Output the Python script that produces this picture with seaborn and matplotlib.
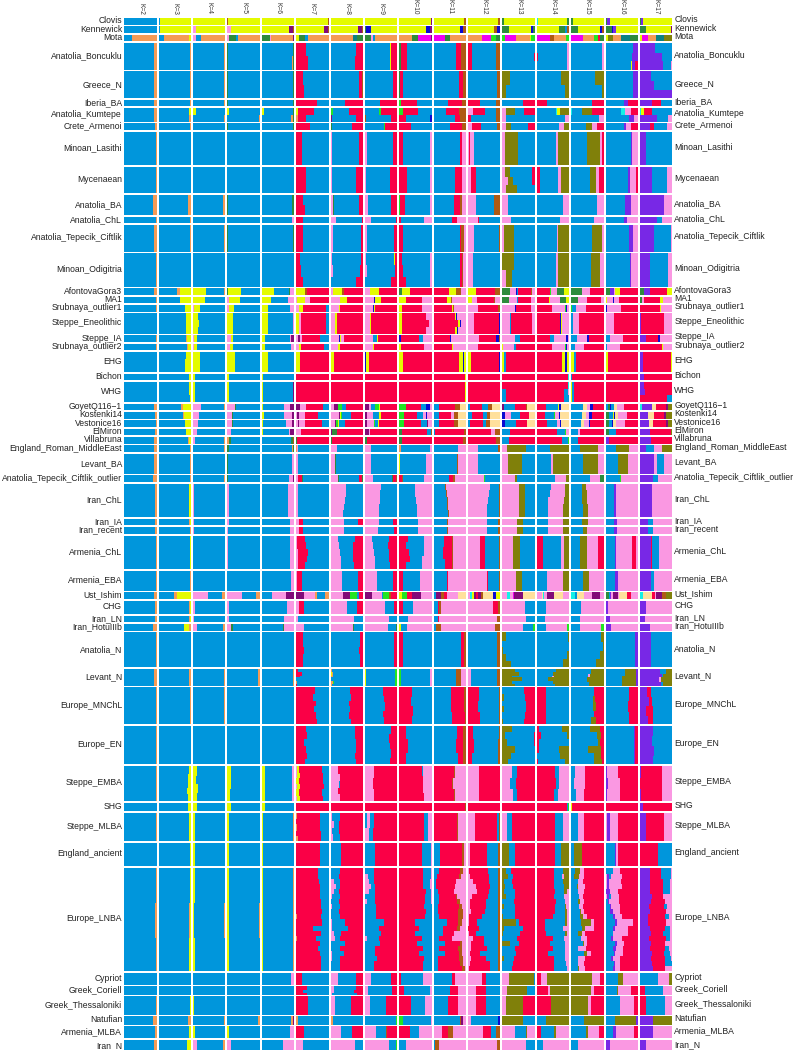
import re
import numpy as np
import matplotlib.pyplot as plt
import seaborn as sns
from matplotlib.colors import ListedColormap
from matplotlib.transforms import ScaledTranslation

# population, top to bottom
pops = ["Clovis", "Kennewick", "Mota", "Anatolia_Boncuklu", "Greece_N", "Iberia_BA", "Anatolia_Kumtepe",
        "Crete_Armenoi", "Minoan_Lasithi", "Mycenaean", "Anatolia_BA", "Anatolia_ChL", "Anatolia_Tepecik_Ciftlik",
        "Minoan_Odigitria",
        "AfontovaGora3", "MA1", "Srubnaya_outlier1", "Steppe_Eneolithic", "Steppe_IA", "Srubnaya_outlier2", "EHG",
        "Bichon", "WHG",
        "GoyetQ116\u22121", "Kostenki14", "Vestonice16", "ElMiron", "Villabruna", "England_Roman_MiddleEast",
        "Levant_BA", "Anatolia_Tepecik_Ciftlik_outlier",
        "Iran_ChL", "Iran_IA", "Iran_recent", "Armenia_ChL", "Armenia_EBA", "Ust_Ishim", "CHG", "Iran_LN",
        "Iran_HotuIIIb",
        "Anatolia_N", "Levant_N", "Europe_MNChL", "Europe_EN", "Steppe_EMBA", "SHG", "Steppe_MLBA", "England_ancient",
        "Europe_LNBA", "Cypriot", "Greek_Coriell", "Greek_Thessaloniki", "Natufian", "Armenia_MLBA", "Iran_N"]

# height of each population in heatmap rows
pop_rows = [4, 4, 4, 16, 16, 4, 8, 4, 20, 16, 12, 4, 16, 20,
            4, 4, 4, 12, 4, 4, 12, 4, 12,
            4, 4, 4, 4, 4, 4, 12, 4,
            20, 4, 4, 20, 12, 4, 8, 4, 4,
            21, 10, 22, 23, 21, 5, 17, 14, 62, 7, 5, 11, 5, 7, 8]

# one cell per population, letter + percent left to right, "/" = next slice down
k2 = """b100 b100 b24o76 b92o8 b92o8 b93o7 b93o7 b96o4 b99o1 b99o1 b90o10 b97o3 b93o7 b98o2
b92o8 b98o2 b98o2 b100 b98o2 b99o1 b100 b100 b100
b92o8 b96o4 b97o3 b95o5 b92o8 b92o8 b92o8 b90o10
b96o4 b95o5 b95o5 b98o2 b98o2 b92o8 b96o4 b95o5 b90o10
b99o1 b93o7 b99o1/b97o3/b99o1 b98o2 b99o1 b100 b97o3 b100 b98o2/b96o4/b98o2 b100 b100 b99o1 b90o10 b95o5 b92o8""".split()

k3 = """b3o2y95 b3o2y95 b17o76y7 b96o4 b96o4 b96o4 b94y6/b94o6 b98o2 b100 b99o1 b91o9 b98o2 b96o4 b99o1
b57o9y34 b66y34 b80y20 b85y15/b84y16/b83y17 b83o5y12 b86o3y11 b83y17/b82y18/b80y20 b94y6 b93y7/b92y8/b96y4
b70o6y24 b75o2y23 b80y20 b84y16 b90o5y5 b97o3 b98o2 b97o3
b95y5 b95o3y2 b96o4 b97y3 b97o3 b47o8y45 b92o4y4 b92o4y4 b79y14o7
b99o1 b94o6 b97o3 b100 b92y8/b89y11/b91y9/b88y12/b91y9 b90y10 b95y5 b97y3 b96y4/b93o4y3/b95y5 b99o1 b99o1 b97y3 b90o10 b94y6 b87y13""".split()

k4 = """y100 p8y92 p8b17o75 b96o4 b96o4 b97o3 y10b90/b96o4 b99o1 b100 b100 b92o8 b98o2 b95o5 b98o2
y40b54o6 y36b64 p4y17b79 y14b86/y19b81/y16b84 p4y8b88 p4y8b88 y20b80 y6b94 y5b95
p24b70o6 p18b82 p14b86 p12b88 p5b91o4 b96o4 b98o2 b97o3
p3b97 p3b97 p3b97 b99o1 b98o2 p45b45o10 p5b95 p3b97 p12b80o8
b100 b94o6 b97o3 b99o1 y12b88/y10b90/y14b86/y11b89 y12b88 y6b94 y5b95 y5b95/y4b92o4/y5b95 b100 b100 y2b98 b95o5 y5b95 p12b80o8""".split()

k5 = """n2y98 p12y88 p4g21b9o66 g2b98 g2b98 g2b98 y5b95/b97o3 g2b98 b100 b100 g2b98 b100 g3b97 b100
g3y40b57 p5y33b62 p6y15b79 y18b82 p10y8b82 p8y8b84 y22b78 y5b95 y4b96
p22g4b74 p15g3b82 p14g3b83 p12b88 o4g6b90 g4b96 g1b99 g3b97
p4b96 p4b96 p3b97 p2b98 b99g1 p44b44o12 p6b94 p5b95 p12g4b84
b100 b95o5 b100 b100 y10b90/y12b88/y8b92 y10b90 y6b94 y4b96 y5b95/y4b92o4/y5b95 b100 b100 b100 b95o5 y4b96 p12b88""".split()

k6 = """y98n2 y85d12n3 g25p4o68d3 b96g4/b92o5g3 b97g3 b97g3 y6b90g4/b90o6g4 b96g4 b99p1 b99p1 b92g6p2 b93p7 b96g4 b99p1
y37b47g4p12 y27b55p18 y18b68p14 y18b78p4 y9b78p4d9 y9b82p9 y20b80 y3b95n2 y3b93d4
y4b66p17d13 y6b62p25d7 y3b73p16d8 y3b80p4d13 y2b88g5n5 b93o4g3 b92p8 b85p12d3
b82p18 b87p13 b87p13 b88p12 b90p10 o2b31p42d25 b78p22 b68p32 b64g3p33
b100 b95o5 b99o1 b100 y10b82p8 y10b90 y5b91o4 y3b97 y5b92o3 b91p9 b100 b98p2 b90o6d4 b87p13 b64p36""".split()

k7 = """y98n2 y85d14n1 y8g20b8o64 r30b70/r36b64 r20b80/r25b75 r65b35 y5r50b45/o5r25b70 r42b58 r17b83/r19b81 r30b70 r22b78/r28b72 r20b80 r22b78 r12b88/r14b86/r22b78
y28n6r66 p2y24p17r57 p8y14r70b8 y8p8r76b8 p2d2p2d7p6r53b28 p8y7r70b15 y12r88 r100 r100
d12p18r54b16 p4d4p20r38b34 p5d3p20r53b19 p14r86 g2r98 o4p2b94 p5b95 p7r12g1b80
p5b95 p8r14b78 p8r12b80 p3r23b74/p4r27b69/p5r30b65/p6r26b68/p6r22b72 p4r15b81 d24p33o7b26o10 p10r14b76 p5b95 p24b76
r22b78/r21b79/r24b76/r20b80/r22b78 r6b94/r18b82/r12b88/b100/o2b98/r4b96 r58b42/r52b48/r62b38/r56b44/r60b40/r64b36 r30b70/r34b66/r24b76/r30b70/r34b66/r28b72 p4y6r70b20/p3y9r70b18/y8r74b18/p4y8r74b14/y8r72b20/p3y8r71b18 r100 o4r70b26/r72b28/o3r72b25/r76b24/o6r70b24 r72b28/r72b28/r74b26/r72b28 r68b32/r68b32/r70b30/r72b28/r75b25/r73b27/r76b24/r78b22/r80b20/o2r76b22/r80b20/r52b48/r78b22/o2r58b40/r72b28/r66b34/r74b26/r78b22/r78b22/r78b22 r18b82 r32b68/r20b80/r34b66 r38b62 o5n2b93 r25b75 p20b80""".split()

k8 = """y100 y85d12n3 o68d2t13g17 b78r22/b76r24 b88r10n2 b45r55 G8b50r42/d4b76r20 g3b62r35 p5b83r12 p6b72r22 p8g4b76r12 p17b80r3 p7b86r7 p5b88r7/p8b84r8/b80r20
p8y28n5r59 p28y22r50 p25y3r72 p14y6r80 p26N4y3p10r57 p22y6r72 p2y10r88 r100 g1r99
p10d12G13b14r51 p25d4y3G4b26r38 p13d4G7y3b18r55 d5g15r80 g5r95 p20g1b79 p15g1b84 p24g3b60r10g3
p49b51/p47b53/p44b56/p41b59/p38b62 p40b45r15 p40b60 p24b50r26/p26b44r30/p30b38r32/p32b36r32/p33b38r29 p35b50r15 p37d24G20b8r11 p50b33r17 p72b28 p70g3b27
b92r8/b90r10/b88r12/b92r8/b90r10 o4b96/y4o4b92/o8b92/b100/o8G3b89/o3b97 b60r40/b62r38/b56r44/b60r40/b58r42/b64r36 b76r24/b74r26/b80r20/b78r22/b74r26/b78r22 p24r76/p28r72/p26b4r70/p24r76/p28r72 r100 p6b22r72/p10b16r74/p6b20r74/p8b22r70 b32r68 b28r72/b27r73/p10b20r70/p18b10r72/p12b15r73/p6b22r72/b25r75/p3b25r72/b26r74/b30r70/p6b38r56/p3b52r45/p10b22r68/p14b16r70/b45r55/b28r72/p3b38r59/p5b25r70/b28r72/b28r72 p22b58r20 p10b70r20/p12b60r28/p6b76r18 p15b48r37 o8b92 p32b35r33 p75g2b23""".split()

k9 = """y98n2 g3N15y82 g20p4b6o70 b78y1r21 b88r12 b48r52 b43G8r49/n4b78r18 b60G3r37 p5b83r12 p4b72r24 p11b68g3r18 p18b78r4 p6b84r10 p4b85y4r7/p8b84r8/b80r20
p15y28r57 p28N2y20r50 p25N2y3r70 p15y3r82 p25b13y3r59 p25y3r72 N3y10r87 r100 r100
d13p5b13G12y3r54 d5p20b20y6r49 d5p22G3b10y3r57 d12p3r85 g5r95 p18b82 p18b82 p25b58g4r8n5
p50b50/p48b52/p46b54/p45b55/p44b56 p42b45r13 p40b50r10 p22b52r26/p24b46r30/p28b46r26/p30b44r26/p30b48r22 p38b50r12 d22p30b3G20n5r20 p62b27n2r9 p73b27 p70b25g5
b90r10 y3b90G7 b57r43/b58r42/b62r38/b56r44/b60r40 b80r20/b74r26/b78r22/b80r20/b76r24 p27r73/p24r76/p28r72 r100 b5p12b10r73/p12b12r76 b30r70 b28r72/p10b18r72/p12b16r72/p18b12r70/p14b16r70/b30r70/p8b24r68/b35r65/b34r66/b35r65/b58r42/b45r55/b50r50/p5b40r55/b46r54/b32r68/b30r70/b36r64/b28r72/b28r72 p20b60r20 p10b75r15 p15b50r35 b96G4 p35b30n3r32 p75b20G5""".split()

k10 = """y98d2 y83N13d4 o40g17m40d3 g5r20b75 g3r8b89 G5r50b45 G10r47b43/r20b75N5 r37b63 r13b83p4 r24b72p4 G3r15b77p5 r4b73p23 r12b88 r8b87p5/r10b85p5/r20b75p5
g7y27r66 y22r47p31 y8r62p30 y7r74p19/y7r84p9/y7r74p19 N6r55b12p27 y6r70p24 y10r90 r100 r100
G20r48b14N12p6 G15r40b18p10N3p14 G15r52b20d3p10 g9r78b10n3 g8r92 o6b90p4 y3b80p17 r8n3b65p24
b48p52/b50p50/b52p48/b54p46/b55p45 b58p42 b57p43 r26b50p24/r20b56p24/r30b46p24/r32b38p30/r20b50p30 r10b55p35 y8G15r17d28p32 r12b30p58 b28p72 y5b20p75
r10b90 G5b90p5 r40b60/r36b64/r42b58/r38b62 r22b78/r26b74/r20b80 r70b4p26/r74p26/r72p28/r76p24 r100 r75b15p10 r70b28p2 r72b25p3/r74b24p2/r72b22p6/r74b22p4/r82b16p2/r80b18p2/r78b20p2/r76b24/r82b18/r80b20/r50b50/r60b40/r48b52/r70b30/r56b44/r74b26/r60b40/r76b24/r72b28/r72b28 r5b67p28 r15b80p5 r35b45p20 G10b88p2 r32b30p38 b20p80""".split()

k11 = """y93n7 y80N12n8 m36g14o50 b68r16n16 b77r13n10 b45r42n13 b38r40n22/b65r15n20 b50r36n14 b82r6p12 b66r22p12 b62r20n6p12 b57r15p28 b80r5n10p5 b82r5n3p10
r46y24n15p15 r40y13n5p42 r57y3n3p37 r66y3N3p28/r76y4N3p17/r66y5N3p26 r50N5p45 r57y4p39 r78y12N4y6 r97y3 r98y2
b16r50n15w19 b15r38p10n12w25 b17r45n13w25 b5r88n7 r92n8 b75p25 b72n2p26 b48r13n4p35
b36n3p61/b38n3p59/b40n3p57/b41n3p56/b43n3p54 b40n3p57 b40n3p57 b32r24n3p41/b30r28n3p39/b34r24n3p39 b40r3n2p55 b8d15n10r8p35w24 b13r5n6p76 b13r5p82 b8n15p77
b83r12n5 b70n15p15 b55r40n5/b52r42n6/b58r38n4 b72r20n8/b68r24n8/b74r18n8 r62n3p35/r56n4p40/r64n3p33 r98n2 r72n3p25 b20r66n7p7 b16r64n10p10/b10r68n6p16/b8r62p30/b8r58p34/b14r50p36/b16r52n4p28/b15r58n8p19/b12r65n10p13/b14r62n14p10/b16r60n14p10/b40r36n12p12/b30r42n10p18/b28r34p38/b18r40p42/b34r46n6p14/b18r58n10p14/b34r44n10p12/b12r66n12p10/b14r66n12p8/b14r74n8p4 b58r8p34 b50r25p25 b43r32p25 b80n5d5p10 p25r20n15p40 b3n15p82""".split()

k12 = """y92n8 y80n8N12 o42m30G14g14 r13b73n14 b88n12 r38b49n13 p15r37b35n13/r10b75n15 p12r28b48n12 p4r3p12b81 p8r18b74 p25b55n20 p30r5b65 p18b78n4 p15b85
y24r58n18 y12p16r53n2p17 p32r62n6 p18r78N4 p34r52N10n4 p32r66n2 y10r85N5 r100 r100
b5r38b18n14w25 b12r35b12n8w33 b5r42b10n12w31 r70p14n16 r85n15 p32b62n6 p30b68n2 p50G3b47
p68b27n5/p66b29n5/p62b33n5/p60b35n5/p58b37n5 p60b33n7 p60b33n7 p37r16b42n5 p58r4b33n5 p6c6y5d8r6d8n6w32N8y15 p78r14n8 p90n10 p83n17
b90n10 p10b80n10 r35b60n5/r32b64n4/r38b58n4 r15b80n5/r18b76n6/r12b82n6 p35r63y2 r98y2 p20r70b5n5 p5r55b33n7 p4r58b30n8/p6r58b28n8/p16r50b26n8/p26r42b24n8/p28r38b26n8/p12r50b30n8/p6r48b38n8/p6r48b38n8/p8r44b40n8/p4r40b48n8/p4r24b64n8/r34b58n8/p4r22b66n8/p14r36b44n6/p8r42b42n8/p10r50b32n8/p6r30b56n8/p10r46b36n8/p6r62b24n8/p4r64b24n8 p42r12b46 p25r30b45 p25r30b45 p8b85N7 p45r25b15n15 p90n10""".split()

k13 = """g5y95 g20y67N8g5 G8m34o42y4G12 b100/b96r4/b100 O25b75/O12b88 b63r37 p12O28b27r33/p10b90 p12O16b52r20 p7O40b53 p8O15b67r10/p16O17b59r8/p12O32b56 p18b82 p27b73 p5O30b65 O35b65/p10O20b70
g24p17N3b3r41n2p10 g20p24b3r40p13 p38N3r46p13 p22b4r64p10 p40b15r45 y2p35b5r58 y5b6r89 r100 r98/b10r90/b10r90
d5b33r35n2w25 N7p20b28r28w17 N8b33r35w24 b22r78 b20r80 p14O58b28 p16O45b39 p40O5b55
p52O18b30 p45O20b35 p45O20b35 p32O22b46 p43O18b39 p15c8p10m4d26w37 p69b31 p72b28 p65b30G5
O12b88/b100/O3b97/O10b90/O26b74 O38b62/O50b50/O30b70/O60b40/O30b70/O40b60 b68r32/O5b65r30/b72r28/O4b68r28/b70r30/O2b66r32 O30b70/O8b88r4/O14b82r4/O40b60/O26b74/O16b84 p30b15r55/p25b18r57/p32b12r56 r100 p15b15r70 O20b20r60 O12b16r72/O18b16r66/O6b24r70/O8b26r66/O4b34r62/O10b28r62/b36r64/O4b34r62/b38r62/O3b36r61/O42b8r50/O4b60r36/O3b52r45/b44r56/O24b26r50/b38r62/b42r58/O4b32r64/b32r68/b30r70 p19O78b3 p15O60b25 p10O53r37 O65b35 p40b32O3p25 p74b26""".split()

k14 = """c3y90g7 y70g18b6n6 m40n13o37G10 b93p7/r3b90p7/b93p7 b75O25/b88O12 r33b67 b60c3y8O29/b87p13 b68p15O17 b58p8O34 r10b55p10O25 b82p18 b72p28 b62p5O33 b58p8O34
r40G3p20g22y15 r38y3p32g18y9 p2r44p42G3N3p6 r72N3y3p22 r42b12p36N5p5 r47p40G3N3p7 r78y8N6y8 r97c3 r97c3/r83b12p5/r85b15
r30b36y4N6w24 r25b27G3p15N3w27 r33b30p10N3w24 r62b25G3p10 r78b18G4 b42O58 b45p5O50 b55p35O10
b45p42O13/b40p48O12/b35p48O17/b35p47O18/b35p47O18 b35p47O18 b35p47O18 r20b55p8O17 b32p48O20 p15w3c5p8d22w27p20 b30p70 b26p74 b28p65G7
b96O4/b98O2/b92O8/b80O20 b60O40/b50O50/b48p4O48/b36O64/b50O50/b55O45 r28b72 r8b70O22/r14b80O6/r6b94/r8b62O30/b72O28/r4b84O12 r55b15p30/r58b12p30/r52b14p34 r92b3G5 r55b25p20 r57b18O25 r52b30O18/r52b26p6O16/r54b26O20/r52b32O16/r56b28O10p6/r54b30p16/r58b28p14/r56b30O4p10/r56b32O6p6/r50b38O6p6/r24b62O8p6/r26b56p18/r30b58O6p6/r50b34p16/r42b46p12/r50b38p12/r36b50p14/r52b34p14/r54b36p10/r54b38p8 r12p20O68 r35p5O60 r45O55 b30O70 r14b40O6p40 b20p80""".split()

k15 = """g7y93 g22y67N7n4 m36o34G12r8g10 b95p5 b75O25/b95O5 b65r35 c3b28O30r33/b85p15 b47O18p15r20 b50O40p6r4 b58O20p8r14 b80p20 b72p28 b64O32p4 b60O30p10
g33p24r43 g20p30r43p7 G4b12p30r54 b5p20r75 b18p30N8r44 b12p28r60 y8b8r84 b3r97 y4b6r90
b36w14p8N8r34 b33w12p10N8r37 b30w10p14N4r42 b22p5r73 b22r78 b28O55p17 b38O45p17 b58p32g10
b33O12p55/b35O14p51/b35O15p50/b36O15p49/b38O14p48 b35O17p48 b36O14p50 b27O22p35r16 b37O17p46 c12b5w22p25d24p12 b30p70 b28p72 b28p65G7
b92O8/b98O2/b88O12/b76O24 b60O40/b52p6O42/b48O52/b54O46 b72r28/b68O6r26/b66O12r22/b72r28/b60O16r24 b58O30r12/b80O12r8/b82O6r12/b52O40r8/b70O22r8/b70O24r6 b12p30r58/b10p32r58/b16p24r60 y3r97 b20p20r60 b10O25r65 b12O14p14r60/b8O16p16r60/b20p18r62/b18O4p20r58/b22p18r60/b24p12r64/b22O4p14r60/b24p14r62/b28O3p10r59/b28O8p12r52/b30O30p10r30/b32O10p30r28/b22O12p8r58/b30p20r50/b36O4p10r50/b20p26r54/b40O10p10r40/b22p22r56/b22p18r60/b20O3p20r57 O65p25r10 O62p8r30 O52p8r40 b40O60 b45O8p32r15 b22p78""".split()

k16 = """g5v8y87 g20N3v8y69 y8O16o25t27g24 b84v16/b82v18/b78y4v8r10 b84v16 b58v12r30 b48c12p18r22/b73v14p13 b57v5p18r20 b78v4p18 b70v6p17r7 b60v18p22 b57v8p35 b72v12p16 b76v4p20
g13v12p3y18r54 y4p18N3p18r57 N6p42r52 v3p22r75 b15p40r45 b6p40r54 N3y5r92 r100 r100
b8g6N4b8w10p22r42 g12b10y3N4w8p28r35 g10b10N4w8p28r40 g12b20r68 v12r88 b33O40p27 b40O30p30 b44G5p51
b25v8p67 b25v10p65 b25v10p65 b30v3p50r12p5 b28v12p60 g10b3v5p5d15p5w22r15p20 v8p92 v15p85 v18p82
b90v10 b60O35v5/b52O42v6/b50O45v5 b72r28/b70r30/b74r26 b88v4r8 v5p35r60/v8p36r56/v4p40r56 r100 p5v8p27r60 b28v3p8r61 b22v2p22r54/p6v4b8p32r50/p4v8p36r52/p6v6p38r50/v14p26r60/p4v6b6p26r58/b8v4p30r58/b14v4p26r56/b14v8p22r56/b22v6p22r50/b30v4p50r16/b24v4p40r32/b24p46r30/b18v4p30r48/b30v4p24r42/b24v8p22r46/b26v4p24r46/b16v8p22r54/b26v4p16r54/b24v6p16r54 b40O13p47 b35O3p40r22 b46p42r12 b30O65v5 b22v10p56r12 v15p85""".split()

k17 = """g3v8y89 g20y76d4 y7m17o26t25O25 v47b53/v68b32/v72b25p3 v35b65/v45b55/v100 v38r27b35 c5y8r25b62/v53b35p12 v30r15b38p17 v20b80 v38b45p17 v75p25 v52b15p33 v43b52p5 v32b55p13
g12v20r52y16 g8p5r50y8p29 r62y3p35 v5r70p25 v18r37N8p37 r68y2p30 v10r85y5 v12r88 v12r88/v15r85/r85b15
c6v30w15r30d7O12 v25w18r30d8O19 v28w14r38d8O12 v30r65O5 v33r67 v18b27p22O33 v45p8b20p27 v42b15p43
v36p64 v25b17p58 v25b17p58 v35r3b22p40 v35b10p55 c10w28r8p5d17n12O20 v20p80 v15p85 v30p70
v35b65 v62b18O20/v68b4O28/v60p6O34/v66b6O28 v22r12b66/v28r10b62/v18r22b60/v26r14b60 v40b60/v36b64/v44b56/v42b58 v5r63p32/r68p32/v3r66p31 v10r90 v20r55p25 r55b45 v30r34b32p4/v30r36b30p4/v30r40b24p6/v32r40b22p6/v32r40b20p8/v36r36p28/v34r42p24/v28r46b10p16/v30r50p20/v24r52b14p10/v26r56p18/v30r48b14p8/v34r38b20p8/v28r52b14p6/v34r44p22/v32r44b14p10/v36r38b18p8/v34r44b18p4/v38r38b22p2/v40r38p22 b55p35O10 r15b55p30 r20b57p23 v40O60 v40p60 v18b2p80""".split()

k_labels = ["K=%d" % k for k in range(2, 18)]
k_cells = [k2, k3, k4, k5, k6, k7, k8, k9, k10, k11, k12, k13, k14, k15, k16, k17]

colours = {"b": "#0096DC", "o": "#F49B55", "y": "#E4FB00", "r": "#FA0046", "p": "#FA98E2", "g": "#2E8B3C",
           "G": "#22E622", "n": "#AF5A14", "O": "#80800A", "v": "#7828E6", "m": "#F000F0", "d": "#820A78",
           "N": "#0A0AD2", "t": "#0A8282", "c": "#14F0E6", "w": "#FFE09C"}
codes = list(colours)

PANEL_COLS = 100
PANEL_GAP = 6
n_rows = sum(pop_rows) + len(pops) - 1
n_cols = len(k_cells) * (PANEL_COLS + PANEL_GAP) - PANEL_GAP
grid = np.full((n_rows, n_cols), np.nan)


def cell_to_row(text):
    parts = re.findall(r"([a-zA-Z])(\d+)", text)
    total = sum(int(v) for _, v in parts)
    row = np.zeros(PANEL_COLS)
    left = 0
    done = 0
    for code, v in parts:
        done += int(v)
        right = round(done * PANEL_COLS / total)
        row[left:right] = codes.index(code)
        left = right
    return row


for c, cells in enumerate(k_cells):
    x0 = c * (PANEL_COLS + PANEL_GAP)
    y0 = 0
    for cell, h in zip(cells, pop_rows):
        slices = cell.split("/")
        for i in range(h):
            grid[y0 + i, x0:x0 + PANEL_COLS] = cell_to_row(slices[i * len(slices) // h])
        y0 += h + 1

sns.set_theme(style="white")
plt.rcParams["font.family"] = ["Liberation Sans", "DejaVu Sans"]

fig = plt.figure(figsize=(7.95, 10.5), dpi=100)
ax = fig.add_axes([124.3 / 795, (1050 - 18 - 1035) / 1050, 548 / 795, 1035 / 1050])
sns.heatmap(grid, ax=ax, cmap=ListedColormap(list(colours.values())), vmin=-0.5, vmax=len(codes) - 0.5,
            cbar=False, xticklabels=False, yticklabels=False)

centres = np.cumsum([0] + [h + 1 for h in pop_rows[:-1]]) + np.array(pop_rows) / 2
ax.set_yticks(centres)
ax.set_yticklabels(pops, rotation=0, fontsize=6.25, color="#222222")
ax.tick_params(axis="y", length=0, pad=1.5)
lift = ScaledTranslation(0, 1.5 / 100, fig.dpi_scale_trans)
for t in ax.get_yticklabels():
    t.set_transform(t.get_transform() + lift)

for y, name in zip(centres, pops):
    ax.annotate(name, xy=(1, y), xycoords=("axes fraction", "data"), xytext=(1.5, 1.1),
                textcoords="offset points", va="center", ha="left", fontsize=6.25, color="#222222",
                annotation_clip=False)

for c, lab in enumerate(k_labels):
    xc = c * (PANEL_COLS + PANEL_GAP) + PANEL_COLS / 2
    ax.annotate(lab, xy=(xc, 1), xycoords=("data", "axes fraction"), xytext=(0, 2.6),
                textcoords="offset points", rotation=270, ha="center", va="bottom", fontsize=4.8,
                color="#333333", annotation_clip=False)

fig.savefig("out.png", dpi=100)
